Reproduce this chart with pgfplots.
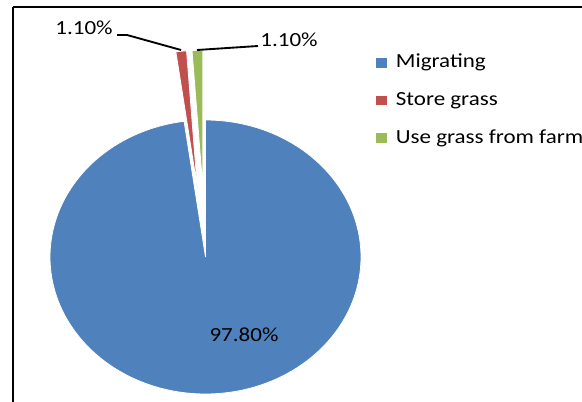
\documentclass[border=0pt]{standalone}
\usepackage{pgfplots}
\pgfplotsset{compat=1.18}
\usepackage{fontspec}
\setmainfont{Carlito}
\definecolor{mblue}{HTML}{4F81BD}
\definecolor{mred}{HTML}{C0504D}
\definecolor{mgreen}{HTML}{9BBB59}
% data: shares in percent
\def\vA{97.8}\def\vB{1.1}\def\vC{1.1}
\pgfmathsetmacro\aA{3.6*\vA}
\pgfmathsetmacro\aB{\aA+3.6*\vB}
\pgfmathsetmacro\aC{\aB+3.6*\vC}
\def\cx{205.5}\def\cy{257}\def\rx{155.5}\def\ry{137}
\def\ex{0.51}
\pgfmathsetmacro\bxB{\cx+\ex*\rx*sin((\aA+\aB)/2)}
\pgfmathsetmacro\byB{\cy-\ex*\ry*cos((\aA+\aB)/2)}
\pgfmathsetmacro\bxC{\cx+\ex*\rx*sin((\aB+\aC)/2)}
\pgfmathsetmacro\byC{\cy-\ex*\ry*cos((\aB+\aC)/2)}
\begin{document}
\begin{tikzpicture}
\begin{axis}[
  width=436.5pt, height=301.5pt, scale only axis,
  xmin=0, xmax=582, ymin=0, ymax=402, y dir=reverse,
  hide axis, clip=true,
  legend cell align=left,
  legend image code/.code={\fill[#1,draw=none] (0pt,-3.6pt) rectangle (8.2pt,3.8pt);},
  legend style={at={(axis cs:376,53)}, anchor=north west, draw=none, fill=none,
    inner sep=0pt, row sep=13.8pt, column sep=6.5pt,
    font=\fontsize{15}{18}\selectfont,
    nodes={inner sep=0pt, xscale=1.15, text height=11pt, text depth=3.5pt}},
]
\draw[line width=2pt] (axis cs:13,7) -- (axis cs:700,7);
\draw[line width=2pt] (axis cs:13,7) -- (axis cs:13,450);
\addplot[fill=mblue, draw=white, line width=0.6pt, domain=0:\aA, samples=240, variable=\t]
  ({\cx+\rx*sin(\t)},{\cy-\ry*cos(\t)}) -- (axis cs:\cx,\cy) -- cycle;
\addlegendentry{Migrating}
\addplot[fill=mred, draw=white, line width=0.6pt, domain=\aA:\aB, samples=20, variable=\t]
  ({\bxB+\rx*sin(\t)},{\byB-\ry*cos(\t)}) -- (axis cs:\bxB,\byB) -- cycle;
\addlegendentry{Store grass}
\addplot[fill=mgreen, draw=white, line width=0.6pt, domain=\aB:\aC, samples=20, variable=\t]
  ({\bxC+\rx*sin(\t)},{\byC-\ry*cos(\t)}) -- (axis cs:\bxC,\byC) -- cycle;
\addlegendentry{Use grass from farm}
\draw[line width=1.4pt] (axis cs:117,35) -- (axis cs:127,35) -- (axis cs:181,50);
\draw[line width=1.4pt] (axis cs:197,50) -- (axis cs:258,46);
\node[anchor=base, xscale=1.15, inner sep=0pt, font=\fontsize{15}{18}\selectfont] at (axis cs:84,35) {1.10\%};
\node[anchor=base, xscale=1.15, inner sep=0pt, font=\fontsize{15}{18}\selectfont] at (axis cs:289,47) {1.10\%};
\node[anchor=base, xscale=1.15, inner sep=0pt, font=\fontsize{15}{18}\selectfont] at (axis cs:244,342) {97.80\%};
\end{axis}
\pgfresetboundingbox
\path[use as bounding box] (current axis.south west) rectangle (current axis.north east);
\end{tikzpicture}
\end{document}
